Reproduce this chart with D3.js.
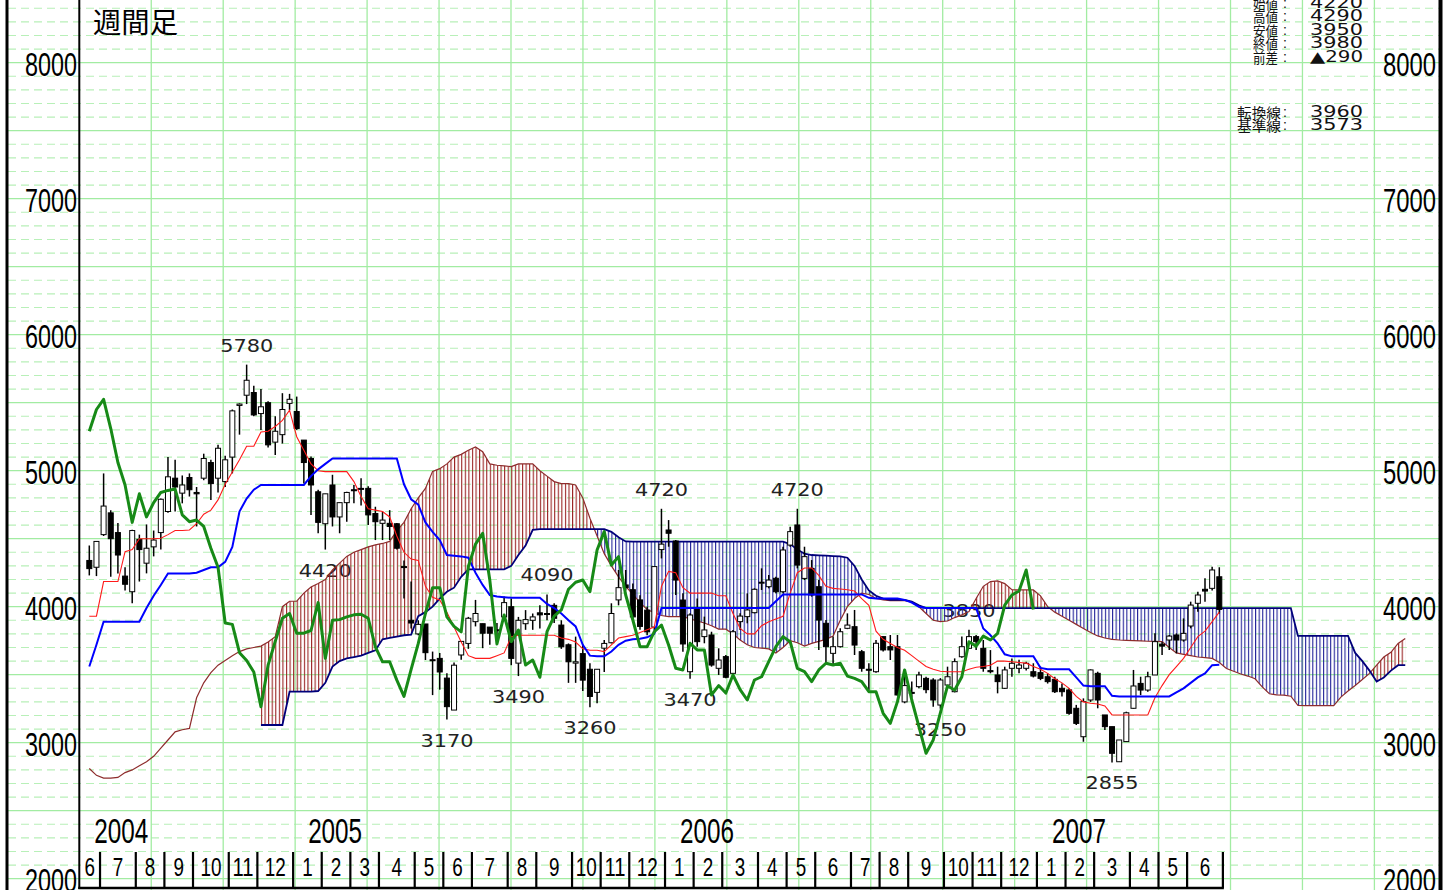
<!DOCTYPE html>
<html><head><meta charset="utf-8">
<script src="https://cdnjs.cloudflare.com/ajax/libs/d3/7.8.5/d3.min.js"></script>
<style>html,body{margin:0;padding:0;background:#fff;overflow:hidden}</style>
</head><body><svg id="c" width="1450" height="890"></svg>
<script>
// ---------------- DATA (weekly candles, first week ending 2004-06-18) ----------------
const startDate = "2004-06-18";
const opens = [
4340,4290,4530,4690,4545,4225,4110,4495,4320,4440,
4545,4700,4945,4835,4950,4840,4945,5060,4945,4920,
5100,5480,5555,5575,5420,5500,5210,5265,5495,5435,
5225,5090,4845,4610,4895,4660,4765,4860,4870,4870,
4685,4613,4613,4610,4295,3900,3800,3873,3610,3620,
3475,3240,3645,3730,3890,3875,3850,3830,3925,4000,
3585,3875,3900,3955,3950,4010,3865,3720,3585,3655,
3540,3370,3695,3735,4050,4160,4125,4050,3975,3850,
4420,4564,4483,4049,3522,3988,3780,3792,3547,3633,
3510,3890,3927,3956,4175,4147,4209,4110,4453,4601,
4208,4282,4147,3878,3657,3706,3841,3853,3669,3540,
3522,3780,3706,3706,3300,3370,3412,3473,3461,3277,
3424,3375,3632,3694,3780,3694,3530,3498,3400,3547,
3547,3547,3522,3515,3485,3466,3400,3388,3253,3044,
3314,3510,3204,3118,2860,3008,3253,3436,3387,3498,
3725,3755,3792,3755,3858,4025,4128,4135,4220];
const highs = [
4450,4480,4980,4710,4615,4290,4565,4530,4605,4560,
4795,5100,5080,4965,4980,4880,5125,5080,5190,5110,
5450,5495,5780,5625,5600,5510,5400,5570,5565,5545,
5225,5105,4860,4830,4970,4765,4845,4895,4945,4885,
4735,4700,4710,4615,4340,4185,3900,3873,3670,3660,
3510,3590,3745,3925,4050,3875,3850,3880,4075,4060,
3925,3975,3950,4010,4090,4025,3900,3730,3780,3720,
3585,3540,3755,4025,4270,4270,4170,4085,4000,4295,
4720,4637,4490,4098,3951,4061,3927,3816,3694,3645,
3829,3951,4098,4135,4282,4233,4221,4441,4588,4720,
4441,4343,4196,3902,3780,3841,3951,3976,3682,3584,
3755,3780,3792,3792,3535,3450,3522,3485,3473,3475,
3559,3620,3780,3830,3792,3755,3681,3559,3559,3620,
3610,3596,3584,3560,3510,3485,3436,3400,3278,3326,
3539,3522,3204,3118,3020,3228,3535,3485,3522,3804,
3743,3792,3804,3914,4037,4110,4209,4294,4290];
const lows = [
4230,4225,4520,4220,4245,4120,4025,4185,4245,4370,
4420,4690,4700,4760,4810,4590,4930,4785,4840,4880,
4980,5265,5490,5400,5300,5170,5115,5200,5445,5300,
4905,4675,4540,4420,4590,4540,4625,4760,4745,4600,
4490,4490,4490,4420,4060,3840,3790,3608,3350,3390,
3170,3240,3610,3690,3855,3695,3720,3755,3900,3570,
3490,3830,3830,3840,3900,3880,3690,3440,3440,3380,
3260,3290,3520,3730,4010,4120,3900,3830,3790,3800,
4355,4441,4086,3669,3470,3706,3731,3559,3498,3473,
3505,3829,3878,3951,4123,4135,4098,4098,4441,4282,
4196,4074,3682,3571,3571,3700,3835,3645,3522,3387,
3515,3670,3608,3345,3290,3330,3400,3363,3265,3250,
3400,3370,3625,3690,3681,3522,3510,3363,3395,3485,
3510,3530,3480,3460,3435,3365,3340,3205,3130,3007,
3300,3253,3093,2855,2860,3005,3250,3350,3375,3498,
3645,3681,3657,3743,3841,3963,4037,4120,3950];
const closes = [
4280,4480,4740,4500,4380,4165,4560,4420,4430,4490,
4790,4955,4880,4895,4860,4830,5090,4905,5165,5080,
5440,5490,5665,5410,5470,5190,5290,5450,5525,5310,
5060,4895,4620,4830,4660,4765,4840,4855,4865,4675,
4625,4637,4590,4430,4290,3880,3870,3662,3605,3520,
3265,3570,3745,3915,3950,3805,3805,3825,4030,3620,
3900,3905,3925,3940,3945,3915,3705,3595,3595,3460,
3340,3540,3730,3950,4140,4140,3925,3855,3815,4295,
4460,4540,4196,3726,3939,3743,3829,3571,3608,3481,
3816,3931,3976,4128,4180,4196,4110,4417,4552,4306,
4368,4086,3902,3706,3706,3816,3865,3718,3547,3535,
3731,3682,3682,3351,3420,3365,3498,3390,3314,3461,
3485,3596,3706,3780,3743,3547,3522,3449,3535,3584,
3571,3584,3490,3473,3449,3375,3375,3216,3142,3302,
3535,3314,3118,2922,3020,3220,3417,3387,3485,3743,
3710,3784,3755,3804,4012,4086,4115,4270,3980];
// 転換線 (red)
const tenkan = [
3930,3930,4185,4185,4185,4405,4420,4500,4500,4500,
4503,4530,4560,4560,4564,4610,4680,4710,4785,4900,
4990,5080,5180,5180,5285,5290,5325,5370,5445,5250,
5150,5050,5000,4993,4993,4993,4993,4920,4810,4720,
4710,4700,4660,4520,4400,4350,4340,4150,4070,4050,
3960,3850,3740,3640,3620,3620,3620,3640,3660,3780,
3790,3790,3790,3790,3790,3790,3770,3760,3740,3690,
3680,3680,3670,3720,3770,3780,3790,3810,3830,3850,
4150,4260,4250,4140,4100,4100,4100,4100,4080,4080,
3950,3840,3800,3800,3860,3890,3910,3930,4100,4250,
4285,4285,4230,4150,4135,4130,4125,4115,4060,4010,
3820,3760,3730,3700,3680,3640,3600,3560,3540,3525,
3522,3522,3522,3540,3555,3560,3570,3600,3600,3595,
3590,3585,3560,3540,3510,3470,3440,3400,3340,3300,
3290,3285,3270,3204,3204,3204,3204,3204,3204,3330,
3420,3500,3560,3620,3700,3780,3820,3890,3960];
// 基準線 (blue)
const kijun = [
3560,3720,3890,3890,3890,3890,3890,3890,3990,4080,
4160,4245,4245,4245,4245,4250,4270,4290,4290,4330,
4440,4700,4795,4860,4895,4895,4895,4895,4895,4895,
4895,4960,5010,5050,5090,5090,5090,5090,5090,5090,
5090,5090,5090,5090,4900,4790,4750,4620,4550,4490,
4380,4375,4370,4360,4250,4160,4086,4075,4070,4065,
4065,4065,4065,4065,4020,3990,3950,3900,3855,3720,
3640,3635,3635,3670,3720,3750,3760,3765,3775,3800,
3990,3990,3990,3990,3990,3990,3990,3990,3990,3990,
3990,3990,3990,3990,3990,3990,4040,4090,4090,4090,
4090,4090,4090,4090,4090,4090,4090,4090,4090,4065,
4060,4060,4060,4060,4050,4030,4000,3990,3990,3990,
3990,3990,3990,3990,3990,3840,3790,3730,3650,3635,
3635,3635,3635,3550,3540,3540,3540,3540,3480,3420,
3415,3415,3415,3345,3340,3340,3340,3340,3340,3340,
3340,3340,3370,3400,3440,3480,3510,3570,3573];
// 先行スパン1 (brown), plotted 26 weeks ahead -> 185 points
const spanA = [
2810,2760,2740,2740,2745,2780,2800,2830,2860,2900,
2960,3020,3080,3095,3105,3330,3440,3515,3570,3605,
3640,3670,3690,3700,3710,3740,3780,4000,4040,4040,
4100,4145,4170,4200,4270,4320,4370,4400,4420,4440,
4455,4465,4480,4560,4620,4720,4800,4870,4995,5015,
5050,5100,5120,5150,5175,5140,5050,5040,5035,5030,
5050,5050,5050,5000,4960,4920,4905,4905,4895,4800,
4650,4520,4390,4300,4220,4150,4090,4030,3980,3955,
3935,3927,3927,3927,3910,3895,3880,3860,3835,3835,
3800,3755,3720,3700,3695,3690,3660,3700,3750,3735,
3710,3730,3745,3760,3785,3900,4000,4060,4100,4090,
4060,4050,4045,4045,4045,4035,4000,3950,3900,3890,
3895,3920,3940,3965,4060,4150,4185,4190,4170,4125,
4123,4123,4123,4080,4000,3960,3930,3900,3870,3840,
3810,3785,3770,3760,3755,3752,3750,3748,3746,3745,
3743,3700,3660,3650,3640,3630,3625,3620,3590,3545,
3525,3505,3490,3470,3410,3360,3352,3350,3342,3275,
3272,3272,3272,3272,3272,3335,3380,3420,3465,3510,
3570,3630,3665,3730,3766];
// 先行スパン2 (navy), plotted 26 weeks ahead -> 185 points
const spanB = [
null,null,null,null,null,null,null,null,null,null,
null,null,null,null,null,null,null,null,null,null,
null,null,null,null,3130,3130,3130,3130,3375,3375,
3375,3375,3380,3440,3560,3600,3620,3630,3640,3660,
3680,3760,3770,3780,3790,3795,3930,3960,4000,4060,
4110,4140,4220,4275,4275,4275,4275,4275,4275,4300,
4380,4450,4565,4570,4570,4570,4570,4570,4570,4570,
4570,4570,4570,4550,4510,4480,4478,4478,4478,4478,
4478,4478,4478,4478,4478,4478,4478,4478,4478,4478,
4478,4478,4478,4478,4478,4478,4478,4478,4460,4420,
4390,4380,4378,4375,4372,4370,4360,4300,4200,4120,
4080,4060,4050,4050,4050,4037,4010,3990,3990,3990,
3990,3990,3990,3990,3990,3990,3990,3990,3990,3990,
3990,3990,3990,3990,3990,3990,3990,3990,3990,3990,
3990,3990,3990,3990,3990,3990,3990,3990,3990,3990,
3990,3990,3990,3990,3990,3990,3990,3990,3990,3990,
3990,3990,3990,3990,3990,3990,3990,3990,3990,3785,
3785,3785,3785,3785,3785,3785,3785,3660,3600,3530,
3450,3480,3530,3570,3570];
const chikouLag = 26;                     // 遅行スパン = close drawn 26 weeks back
const peakIdx = [22, 64, 80, 99, 123];    // marked highs
const troughIdx = [33, 50, 60, 70, 84, 119, 143]; // marked lows
const yTicks = [2000, 3000, 4000, 5000, 6000, 7000, 8000];
const titleText = "週間足";
const infoLabels = ["始値", "高値", "安値", "終値", "前差"];
const lineLabels = ["転換線", "基準線"];

// ---------------- CHART ----------------
const W = 1450, H = 890;
const svg = d3.select("#c");
const N = closes.length;
const x = d3.scaleLinear().domain([0, N - 1]).range([89.3, 1219.3]);
const y = d3.scaleLinear().domain([2000, 8000]).range([878.7, 62.7]);
const axisX = 79.3, axisBottom = 888;
const numFont = "'Liberation Sans', Arial, sans-serif";
const cjkFont = "'Noto Sans CJK JP', 'Noto Sans CJK SC', sans-serif";

svg.append("rect").attr("width", W).attr("height", H).attr("fill", "#fff");

// grid
const gridG = svg.append("g");
d3.range(2000, 8500, 100).forEach(v => {
  const yy = y(v);
  if (yy < 0) return;
  const solid = v % 500 === 0;
  gridG.append("line").attr("x1", 8).attr("x2", 1440).attr("y1", yy).attr("y2", yy)
    .attr("stroke", solid ? "#a2eca2" : "#b8f0b8").attr("stroke-width", solid ? 1.3 : 1.1)
    .attr("stroke-dasharray", solid ? null : "8,5");
});
d3.range(1, 19).forEach(k => {
  const xx = axisX + 71.95 * k;
  gridG.append("line").attr("x1", xx).attr("x2", xx).attr("y1", 0).attr("y2", H)
    .attr("stroke", "#a2eca2").attr("stroke-width", 1.3);
});

// high / low markers (under lines)
const markG = svg.append("g").attr("font-family", "'DejaVu Sans', sans-serif").attr("font-size", 18).attr("fill", "#222");
peakIdx.forEach(i => {
  markG.append("text").attr("x", x(i)).attr("y", y(highs[i]) - 13).attr("text-anchor", "middle")
    .attr("textLength", 53).attr("lengthAdjust", "spacingAndGlyphs").text(highs[i]);
});
troughIdx.forEach(i => {
  markG.append("text").attr("x", x(i)).attr("y", y(lows[i]) + 27).attr("text-anchor", "middle")
    .attr("textLength", 53).attr("lengthAdjust", "spacingAndGlyphs").text(lows[i]);
});

// cloud hatch
const defs = svg.append("defs");
const step = x(1) - x(0);
function hatch(id, color) {
  const p = defs.append("pattern").attr("id", id).attr("patternUnits", "userSpaceOnUse")
    .attr("x", x(0)).attr("y", 0).attr("width", step / 2).attr("height", 8);
  p.append("rect").attr("x", 0).attr("y", 0).attr("width", 1.1).attr("height", 8).attr("fill", color);
}
hatch("hatchR", "#9a2424");
hatch("hatchB", "#24249a");
const cloudIdx = d3.range(spanA.length).filter(i => spanA[i] != null && spanB[i] != null);
defs.append("clipPath").attr("id", "above").append("path")
  .attr("d", d3.area().x(i => x(i)).y0(i => y(spanB[i])).y1(0)(cloudIdx));
defs.append("clipPath").attr("id", "below").append("path")
  .attr("d", d3.area().x(i => x(i)).y0(i => y(spanB[i])).y1(H)(cloudIdx));
const areaAB = d3.area().x(i => x(i)).y0(i => y(spanB[i])).y1(i => y(spanA[i]));
svg.append("path").attr("d", areaAB(cloudIdx)).attr("fill", "url(#hatchR)").attr("clip-path", "url(#above)");
svg.append("path").attr("d", areaAB(cloudIdx)).attr("fill", "url(#hatchB)").attr("clip-path", "url(#below)");

const lineGen = d3.line().defined(d => d != null).x((d, i) => x(i)).y(d => y(d));
svg.append("path").attr("d", lineGen(spanA)).attr("fill", "none").attr("stroke", "#8e2c2c").attr("stroke-width", 1.2);
svg.append("path").attr("d", lineGen(spanB)).attr("fill", "none").attr("stroke", "#00007a").attr("stroke-width", 1.8);

// candles
const cg = svg.append("g");
const bw = 5;
const cd = d3.range(N);
cg.selectAll("line.w").data(cd).join("line").attr("class", "w")
  .attr("x1", i => x(i)).attr("x2", i => x(i))
  .attr("y1", i => y(highs[i])).attr("y2", i => y(lows[i]))
  .attr("stroke", "#000").attr("stroke-width", 1.5);
cg.selectAll("rect.b").data(cd).join("rect").attr("class", "b")
  .attr("x", i => x(i) - bw / 2)
  .attr("y", i => y(Math.max(opens[i], closes[i])))
  .attr("width", bw)
  .attr("height", i => Math.max(y(Math.min(opens[i], closes[i])) - y(Math.max(opens[i], closes[i])), 1))
  .attr("fill", i => closes[i] >= opens[i] ? "#fff" : "#000")
  .attr("stroke", "#000").attr("stroke-width", 1);

// tenkan / kijun
svg.append("path").attr("d", lineGen(tenkan)).attr("fill", "none").attr("stroke", "#ff1a1a").attr("stroke-width", 1.1);
svg.append("path").attr("d", lineGen(kijun)).attr("fill", "none").attr("stroke", "#0000ff").attr("stroke-width", 2);
// chikou
svg.append("path").attr("d", lineGen(closes.slice(chikouLag))).attr("fill", "none")
  .attr("stroke", "#178a17").attr("stroke-width", 3).attr("stroke-linejoin", "round");

// borders and axes
svg.append("rect").attr("x", 5.5).attr("y", 0).attr("width", 3).attr("height", H).attr("fill", "#000");
svg.append("rect").attr("x", 1438.5).attr("y", 0).attr("width", 4).attr("height", H).attr("fill", "#000");
svg.append("line").attr("x1", axisX).attr("x2", axisX).attr("y1", 0).attr("y2", axisBottom + 1)
  .attr("stroke", "#000").attr("stroke-width", 2);

// y labels
const yl = svg.append("g").attr("font-family", numFont).attr("font-size", 33).attr("fill", "#000");
yTicks.forEach(v => {
  yl.append("text").attr("x", 77).attr("y", y(v) + 13.3).attr("text-anchor", "end")
    .attr("textLength", 52).attr("lengthAdjust", "spacingAndGlyphs").text(v);
  yl.append("text").attr("x", 1436).attr("y", y(v) + 13.3).attr("text-anchor", "end")
    .attr("textLength", 53).attr("lengthAdjust", "spacingAndGlyphs").text(v);
});

// months / years
const t0 = new Date(startDate + "T00:00:00");
const dates = d3.range(N).map(i => d3.timeDay.offset(t0, 7 * i));
const runs = [];
dates.forEach((d, i) => {
  const key = d.getFullYear() * 12 + d.getMonth();
  if (!runs.length || runs[runs.length - 1].key !== key)
    runs.push({ key, m: d.getMonth() + 1, yr: d.getFullYear(), start: i, end: i });
  else runs[runs.length - 1].end = i;
});
const xg = svg.append("g").attr("font-family", numFont).attr("fill", "#000");
let left = axisX;
runs.forEach((r, k) => {
  const sep = x(r.end + 0.5);
  xg.append("line").attr("x1", sep).attr("x2", sep).attr("y1", 852).attr("y2", axisBottom)
    .attr("stroke", "#000").attr("stroke-width", 2.2);
  const lbl = String(r.m);
  xg.append("text").attr("x", (left + sep) / 2).attr("y", 876).attr("text-anchor", "middle")
    .attr("font-size", 26).attr("textLength", lbl.length * 10.5).attr("lengthAdjust", "spacingAndGlyphs").text(lbl);
  if (k === 0 || r.m === 1) {
    xg.append("text").attr("x", left + 15).attr("y", 843).attr("font-size", 35)
      .attr("textLength", 54).attr("lengthAdjust", "spacingAndGlyphs").text(r.yr);
  }
  left = sep;
});
svg.append("line").attr("x1", axisX - 1).attr("x2", x(N - 0.5) + 1).attr("y1", axisBottom).attr("y2", axisBottom)
  .attr("stroke", "#000").attr("stroke-width", 2.5);

// title
svg.append("text").attr("x", 93).attr("y", 33).attr("font-family", cjkFont).attr("font-size", 28)
  .attr("textLength", 85).attr("lengthAdjust", "spacingAndGlyphs").attr("fill", "#000").text(titleText);

// info panel
const last = N - 1;
const diff = closes[last] - closes[last - 1];
const infoValues = [opens[last], highs[last], lows[last], closes[last], (diff < 0 ? "▲" : "") + Math.abs(diff)];
const lineValues = [tenkan[last], kijun[last]];
const ip = svg.append("g").attr("fill", "#111");
const rowsY = [7.5, 21, 34.5, 48, 62];
infoLabels.forEach((l, k) => {
  ip.append("text").attr("x", 1253).attr("y", rowsY[k] + 1).attr("font-family", cjkFont).attr("font-size", 14)
    .attr("textLength", 25).attr("lengthAdjust", "spacingAndGlyphs").text(l);
  ip.append("text").attr("x", 1283).attr("y", rowsY[k]).attr("font-family", numFont).attr("font-size", 14).text(":");
  ip.append("text").attr("x", 1310).attr("y", rowsY[k]).attr("font-family", "'DejaVu Sans', sans-serif").attr("font-size", 15)
    .attr("textLength", 53).attr("lengthAdjust", "spacingAndGlyphs").text(infoValues[k]);
});
const lrows = [117, 130];
lineLabels.forEach((l, k) => {
  ip.append("text").attr("x", 1237).attr("y", lrows[k] + 1).attr("font-family", cjkFont).attr("font-size", 14)
    .attr("textLength", 44).attr("lengthAdjust", "spacingAndGlyphs").text(l);
  ip.append("text").attr("x", 1283).attr("y", lrows[k]).attr("font-family", numFont).attr("font-size", 14).text(":");
  ip.append("text").attr("x", 1310).attr("y", lrows[k]).attr("font-family", "'DejaVu Sans', sans-serif").attr("font-size", 15)
    .attr("textLength", 53).attr("lengthAdjust", "spacingAndGlyphs").text(lineValues[k]);
});
</script>
</body></html>
